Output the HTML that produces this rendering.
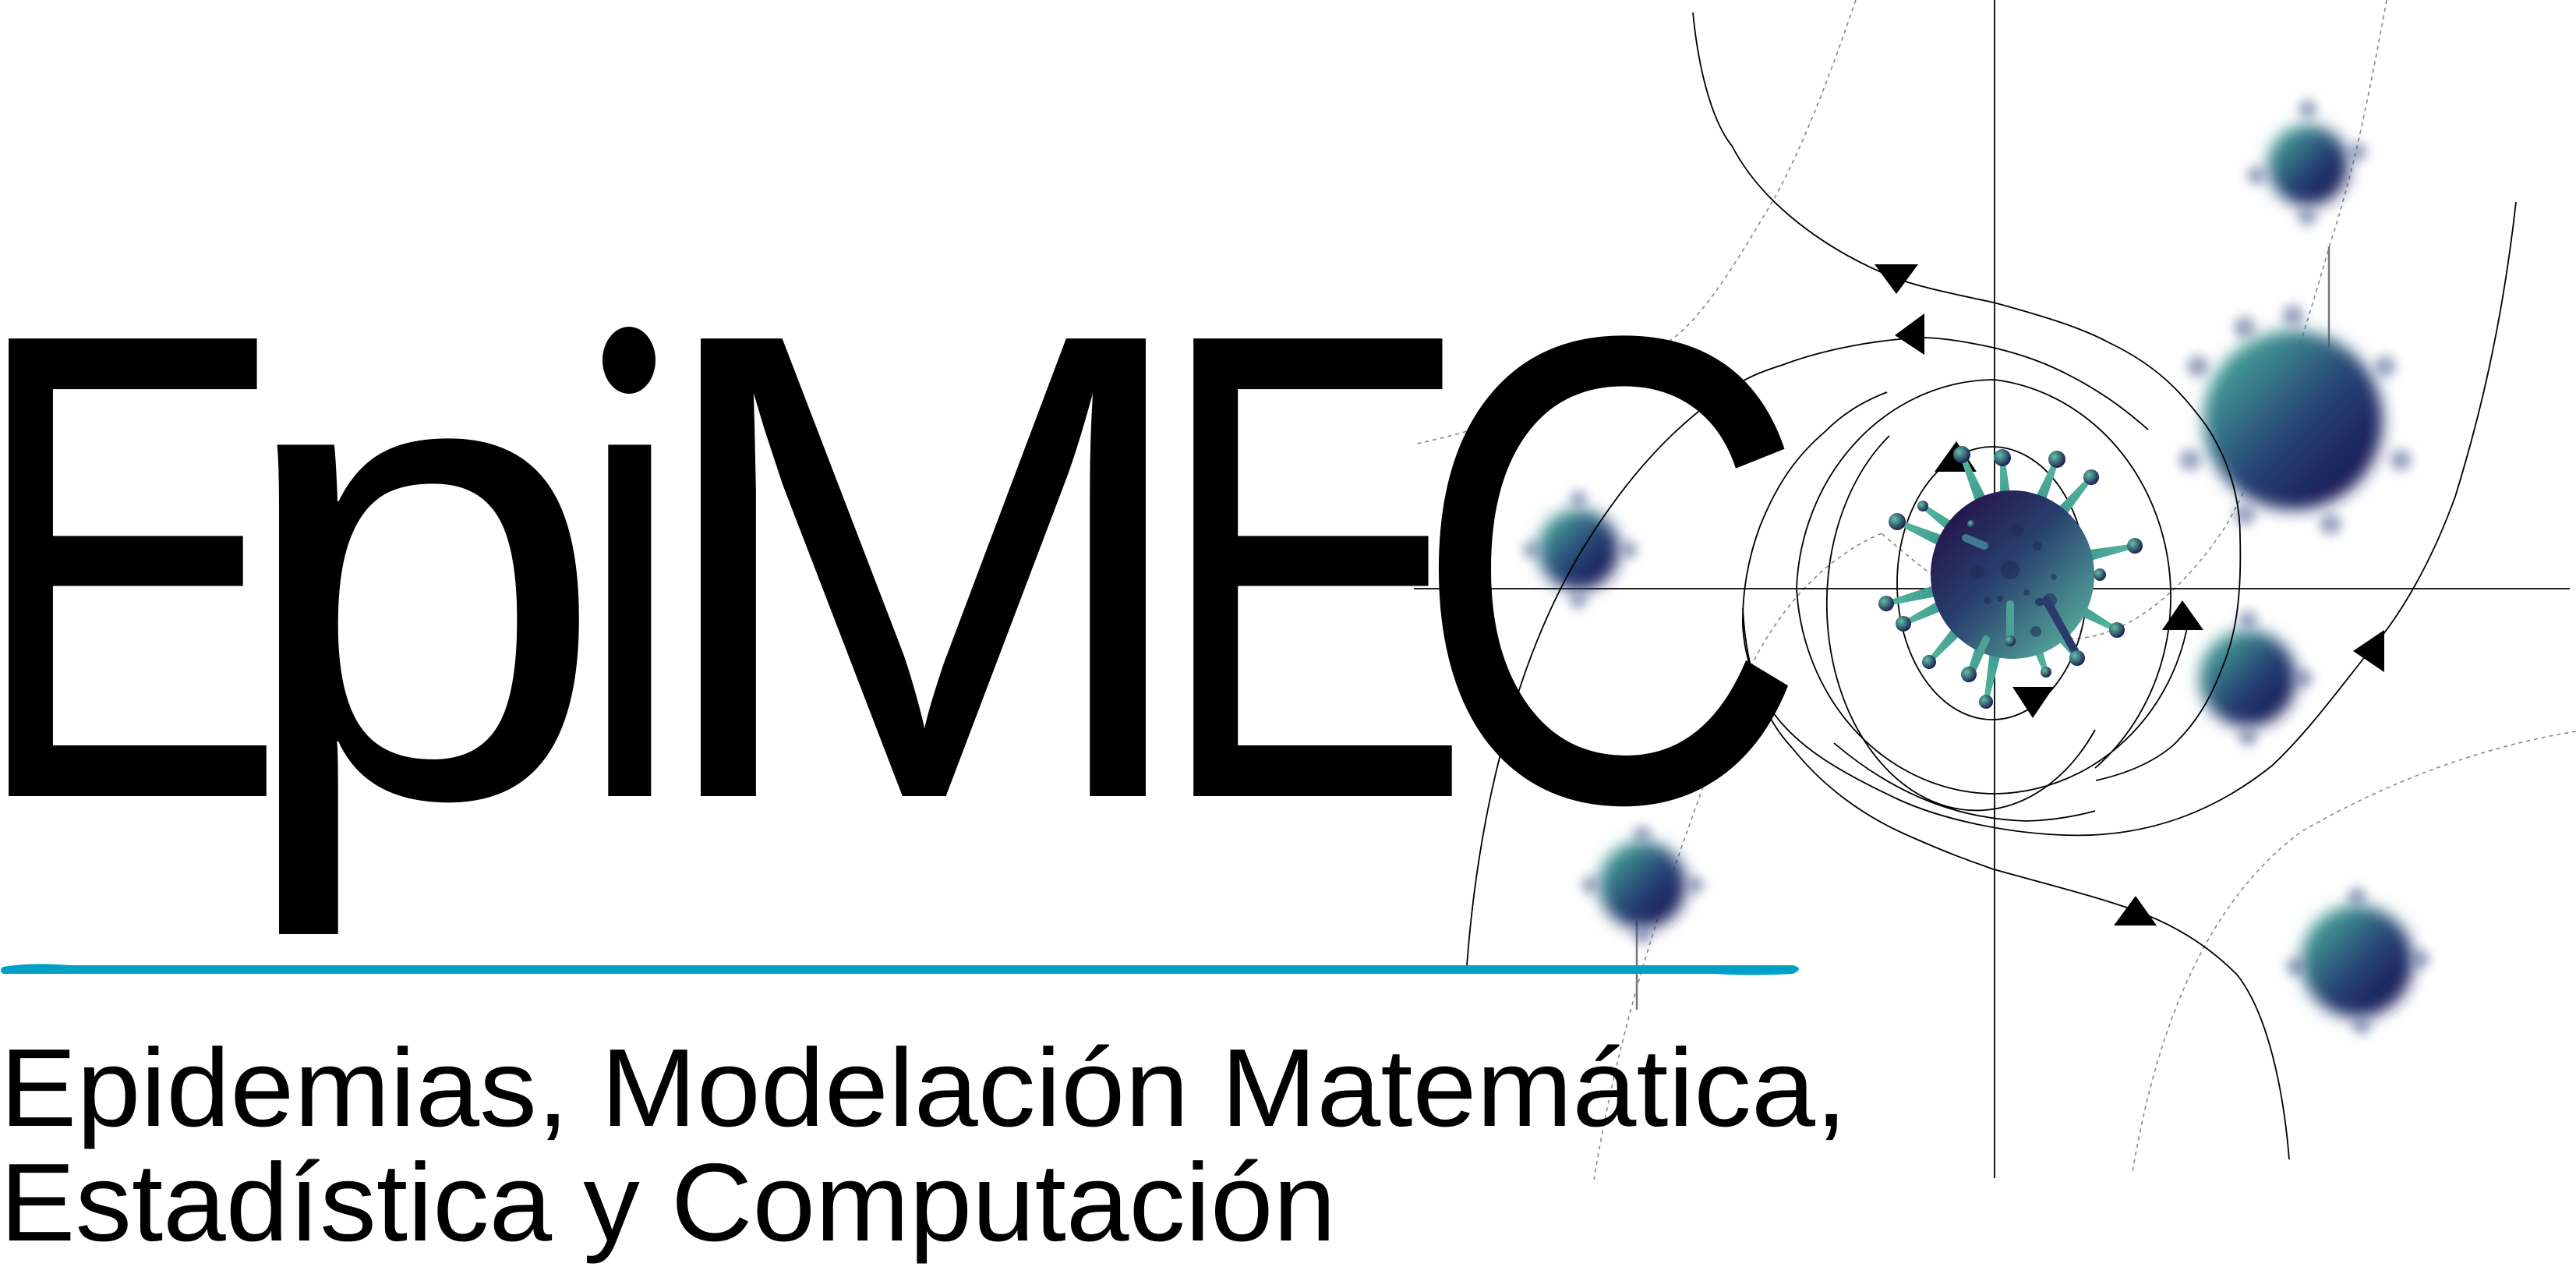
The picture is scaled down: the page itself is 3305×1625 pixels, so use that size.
<!DOCTYPE html>
<html><head><meta charset="utf-8"><style>
html,body{margin:0;padding:0;background:#fff;}
svg{display:block;}
</style></head><body>
<svg width="3305" height="1625" viewBox="0 0 3305 1625" xmlns="http://www.w3.org/2000/svg">
<defs>
<linearGradient id="vg" x1="0" y1="0" x2="1" y2="1">
<stop offset="0" stop-color="#24063f"/><stop offset="0.45" stop-color="#283e6e"/><stop offset="1" stop-color="#5fc3a6"/>
</linearGradient>
<radialGradient id="ball" cx="0.35" cy="0.35" r="0.7">
<stop offset="0" stop-color="#5fc3a6"/><stop offset="1" stop-color="#1c1850"/>
</radialGradient>
<linearGradient id="blurg" x1="0" y1="0" x2="1" y2="1">
<stop offset="0" stop-color="#4fc0a4"/><stop offset="0.55" stop-color="#253f73"/><stop offset="1" stop-color="#14084a"/>
</linearGradient>
<linearGradient id="sp" x1="0" y1="0" x2="1" y2="0">
<stop offset="0" stop-color="#2a3a6a"/><stop offset="0.6" stop-color="#3f9a8e"/><stop offset="1" stop-color="#55b8a0"/>
</linearGradient>
<filter id="bl" x="-50%" y="-50%" width="200%" height="200%"><feGaussianBlur stdDeviation="10"/></filter>
<filter id="bl2" x="-50%" y="-50%" width="200%" height="200%"><feGaussianBlur stdDeviation="7"/></filter>
</defs>

<!-- dotted gray curves -->
<g fill="none" stroke="#888" stroke-width="1.6" stroke-dasharray="5,5">
<path d="M2381,0 C2340,120 2300,220 2261,280 C2220,350 2180,410 2145,435 C2050,500 1930,545 1814,570"/>
<path d="M3062,0 C3040,120 3020,220 2990,311 C2950,450 2910,580 2856,674 C2800,760 2730,815 2664,819 C2590,820 2500,760 2414,684 M2414,684 C2330,720 2260,800 2213,933 C2140,1130 2080,1300 2045,1513"/>
<path d="M3305,938 C3170,960 3050,1010 2952,1067 C2840,1150 2770,1300 2736,1503"/>
</g>

<!-- axes -->
<g stroke="#000" stroke-width="1.8">
<line x1="2559" y1="0" x2="2559" y2="1511"/>
<line x1="1814" y1="755" x2="3297" y2="755"/>
</g>
<g stroke="#777" stroke-width="2.5">
<line x1="2988" y1="316" x2="2988" y2="446"/>
<line x1="2100" y1="1181" x2="2100" y2="1295"/>
</g>

<!-- blurred viruses -->
<g filter="url(#bl)">
<circle cx="2961" cy="212" r="52" fill="url(#blurg)"/>
<circle cx="2942" cy="539" r="115" fill="url(#blurg)"/>
<circle cx="2884" cy="870" r="62" fill="url(#blurg)"/>
<circle cx="3024" cy="1233" r="72" fill="url(#blurg)"/>
<circle cx="2025" cy="705" r="52" fill="url(#blurg)"/>
<circle cx="2107" cy="1135" r="56" fill="url(#blurg)"/>
</g>
<g filter="url(#bl2)" fill="#5a6a9a" opacity="0.6">
<circle cx="2961" cy="140" r="12"/><circle cx="3025" cy="195" r="12"/><circle cx="2895" cy="225" r="12"/><circle cx="2960" cy="278" r="12"/>
<circle cx="2942" cy="405" r="14"/><circle cx="3060" cy="470" r="14"/><circle cx="3080" cy="590" r="14"/><circle cx="2820" cy="470" r="14"/><circle cx="2810" cy="590" r="14"/><circle cx="2880" cy="660" r="14"/><circle cx="2990" cy="672" r="14"/><circle cx="2880" cy="420" r="14"/>
<circle cx="2884" cy="795" r="12"/><circle cx="2955" cy="870" r="12"/><circle cx="2884" cy="945" r="12"/>
<circle cx="3024" cy="1150" r="12"/><circle cx="3105" cy="1230" r="12"/><circle cx="2945" cy="1240" r="12"/><circle cx="3030" cy="1315" r="12"/>
<circle cx="2025" cy="640" r="11"/><circle cx="1965" cy="705" r="11"/><circle cx="2090" cy="705" r="11"/><circle cx="2025" cy="770" r="11"/>
<circle cx="2107" cy="1070" r="11"/><circle cx="2040" cy="1135" r="11"/><circle cx="2175" cy="1135" r="11"/><circle cx="2107" cy="1200" r="11"/>
</g>

<!-- streamlines -->
<g fill="none" stroke="#000" stroke-width="1.8">
<path d="M1882,1238 C1900,1000 1960,820 2030,705 C2100,590 2170,530 2222,497 C2245,482 2265,475 2287,468 C2340,448 2410,435 2469,433 C2500,434 2530,440 2558,446 C2600,456 2630,468 2660,484 C2700,505 2730,528 2756,551"/>
<path d="M2172,16 C2180,100 2200,160 2222,187 C2260,260 2340,320 2432,357 C2470,370 2520,380 2558,388 C2620,405 2670,420 2705,439 C2770,470 2800,505 2830,545 C2860,590 2874,640 2874,688 C2876,760 2870,810 2852,854 C2835,900 2815,930 2788,956 C2760,980 2725,993 2689,1001"/>
<path d="M3228,259 C3210,420 3180,540 3150,637 C3120,720 3080,790 3040,835 C3000,885 2960,940 2915,982 C2830,1050 2740,1075 2647,1071 C2570,1068 2490,1050 2437,1026 C2360,990 2310,960 2278,918 C2250,880 2238,840 2236,803 C2235,760 2243,715 2258,675 C2280,620 2305,585 2341,554 C2365,530 2390,515 2421,503"/>
<path d="M2236,780 C2240,860 2262,920 2300,960 C2340,1010 2390,1045 2440,1068 C2500,1095 2530,1105 2558,1115 C2630,1135 2690,1150 2740,1168 C2800,1190 2840,1220 2870,1250 C2910,1300 2930,1400 2937,1487"/>
<ellipse cx="2556" cy="748" rx="122" ry="175"/>
<!-- ring 2 : nearly closed -->
<path d="M2424,559 A192,265 0 1,0 2688,936"/>
<!-- ring 3 -->
<path d="M2688,985 A255,280 0 0,0 2559,487 A255,280 0 0,0 2305,754 A255,280 0 0,0 2559,1018 A255,270 0 0,0 2807,800"/>
<path d="M2353,953 C2420,1010 2500,1050 2600,1053 C2640,1052 2670,1045 2688,1040"/>
</g>

<!-- arrowheads -->
<g fill="#000">
<polygon points="2405,339 2461,339 2433,377"/>
<polygon points="2431,430 2469,402 2469,455"/>
<polygon points="2482,605 2510,566 2536,605"/>
<polygon points="2582,881 2635,881 2608,921"/>
<polygon points="2774,808 2800,770 2827,808"/>
<polygon points="3019,835 3059,808 3059,862"/>
<polygon points="2712,1187 2740,1149 2767,1187"/>
</g>

<!-- main virus spikes -->
<g fill="url(#sp)">
<polygon points="0,-14 163,-3 163,3 0,14" transform="translate(2580,733) rotate(-112.8)"/>
<polygon points="0,-14 146,-3 146,3 0,14" transform="translate(2580,733) rotate(-94.3)"/>
<polygon points="0,-14 156,-3 156,3 0,14" transform="translate(2580,733) rotate(-67.7)"/>
<polygon points="0,-14 159,-3 159,3 0,14" transform="translate(2580,733) rotate(-49.6)"/>
<polygon points="0,-14 162,-3 162,3 0,14" transform="translate(2580,733) rotate(-11.7)"/>
<polygon points="0,-14 155,-3 155,3 0,14" transform="translate(2580,733) rotate(28.9)"/>
<polygon points="0,-14 140,-3 140,3 0,14" transform="translate(2580,733) rotate(52.6)"/>
<polygon points="0,-14 137,-3 137,3 0,14" transform="translate(2580,733) rotate(70.8)"/>
<polygon points="0,-14 170,-3 170,3 0,14" transform="translate(2580,733) rotate(100.8)"/>
<polygon points="0,-14 143,-3 143,3 0,14" transform="translate(2580,733) rotate(112.2)"/>
<polygon points="0,-14 156,-3 156,3 0,14" transform="translate(2580,733) rotate(132.2)"/>
<polygon points="0,-14 153,-3 153,3 0,14" transform="translate(2580,733) rotate(154.1)"/>
<polygon points="0,-14 165,-3 165,3 0,14" transform="translate(2580,733) rotate(165.6)"/>
<polygon points="0,-14 159,-3 159,3 0,14" transform="translate(2580,733) rotate(-156.3)"/>
<polygon points="0,-14 141,-3 141,3 0,14" transform="translate(2580,733) rotate(-143.4)"/>
</g>
<ellipse cx="2582" cy="737" rx="105" ry="108" fill="url(#vg)"/>
<g fill="#1f2a52" opacity="0.55">
<circle cx="2579" cy="731" r="12"/><circle cx="2537" cy="734" r="9"/><circle cx="2630" cy="770" r="9"/><circle cx="2588" cy="680" r="8"/>
<circle cx="2550" cy="770" r="5"/><circle cx="2614" cy="700" r="6"/><circle cx="2540" cy="680" r="6"/><circle cx="2612" cy="810" r="7"/>
<circle cx="2600" cy="760" r="4"/><circle cx="2566" cy="768" r="4"/><circle cx="2635" cy="740" r="4"/>
</g>
<g stroke-linecap="round" stroke-width="10">
<line x1="2625" y1="770" x2="2665" y2="840" stroke="#2a3a6a"/>
<line x1="2616" y1="772" x2="2618" y2="772" stroke="#2a3a6a"/>
<line x1="2626" y1="770" x2="2660" y2="832" stroke="#2a3a6a"/>
<line x1="2579" y1="775" x2="2579" y2="818" stroke="#4aa294"/>
<line x1="2548" y1="820" x2="2530" y2="860" stroke="#4aa294"/>
<line x1="2546" y1="700" x2="2522" y2="690" stroke="#3f7a8e"/>
</g>
<g fill="url(#ball)">
<circle cx="2517" cy="583" r="11"/><circle cx="2569" cy="587" r="11"/><circle cx="2639" cy="589" r="11"/><circle cx="2683" cy="612" r="10"/>
<circle cx="2739" cy="700" r="10"/><circle cx="2694" cy="737" r="8"/><circle cx="2716" cy="808" r="10"/><circle cx="2665" cy="844" r="10"/>
<circle cx="2625" cy="862" r="7"/><circle cx="2548" cy="900" r="9"/><circle cx="2526" cy="865" r="10"/><circle cx="2475" cy="849" r="9"/>
<circle cx="2442" cy="800" r="10"/><circle cx="2420" cy="774" r="10"/><circle cx="2434" cy="669" r="11"/><circle cx="2467" cy="649" r="7"/>
<circle cx="2579" cy="822" r="7"/><circle cx="2529" cy="672" r="5"/>
</g>

<!-- EpiMEC -->
<g font-family="'Liberation Sans', sans-serif" font-size="853" fill="#000">
<text x="-39" y="1021" textLength="407" lengthAdjust="spacingAndGlyphs">E</text>
<text x="300" y="1021" textLength="479" lengthAdjust="spacingAndGlyphs">p</text>
<text x="721" y="1021" textLength="174" lengthAdjust="spacingAndGlyphs">ı</text>
<text x="829" y="1021" textLength="711" lengthAdjust="spacingAndGlyphs">M</text>
<text x="1481" y="1021" textLength="408" lengthAdjust="spacingAndGlyphs">E</text>
<text x="1810" y="1026" textLength="511" lengthAdjust="spacingAndGlyphs">C</text>
</g>
<ellipse cx="807" cy="462" rx="34" ry="43" fill="#000"/>

<!-- blue underline -->
<path d="M4,1240 Q40,1234 90,1238 L2300,1238 Q2316,1242 2300,1249 Q2240,1252 2200,1249 L4,1249 Q-2,1245 4,1240 Z" fill="#00a0c6"/>

<!-- subtitle -->
<g font-family="'Liberation Sans', sans-serif" font-size="142" fill="#000">
<text x="0" y="1444" textLength="2370" lengthAdjust="spacingAndGlyphs">Epidemias, Modelación Matemática,</text>
<text x="0" y="1591" textLength="1714" lengthAdjust="spacingAndGlyphs">Estadística y Computación</text>
</g>
</svg>
</body></html>
